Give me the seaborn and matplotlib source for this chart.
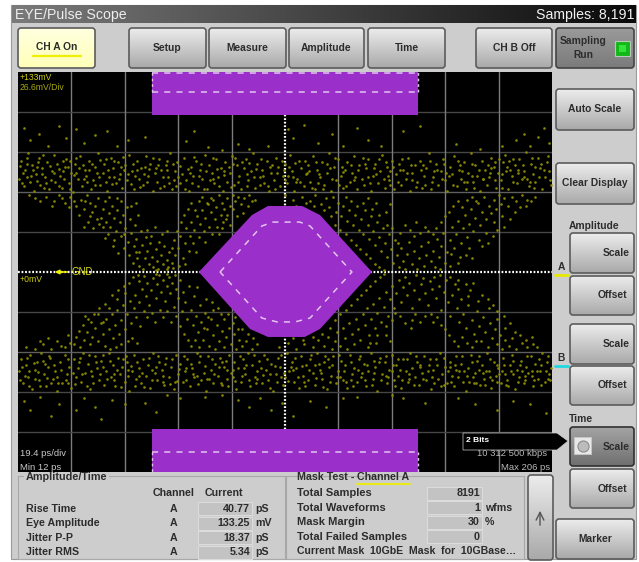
import matplotlib
matplotlib.use("Agg")
import matplotlib.pyplot as plt
import numpy as np
import seaborn as sns
from matplotlib.patches import FancyBboxPatch, Polygon, Rectangle

# ---- measured values -------------------------------------------------------
PS_MIN, PS_MAX, PS_DIV = 12, 206, 19.4
MV_MAX, MV_DIV = 133, 26.6

top_band = [(12.5,62),(13.2,74),(14,57),(14.6,68),(15.8,79),(16.3,60),(17,71),(17.9,54),(18.4,65),(19.6,76),(20.1,58),(20.9,69),(21.8,63),(22.5,73),(23.1,55),(24.2,67),(24.9,78),(25.6,60),(26.3,72),(27.4,64),(27.9,56),(29,70),(29.6,75),(30.4,59),(31.3,66),(32,53),(32.7,72),(33.8,62),(34.5,77),(35.1,57),(36.2,68),(36.8,64),(37.7,74),(38.5,55),(39.4,61),(40.1,70),(41,79),(41.7,58),(42.8,66),(43.3,72),(44.4,54),(45,63),(45.9,76),(46.6,69),(47.5,59),(48.3,73),(49.2,65),(49.8,56),(50.9,71),(51.6,61),(52.4,78),(53.5,67),(54,55),(55.1,74),(55.8,62),(56.7,69),(57.3,58),(58.4,77),(59.2,64),(60,72),(60.9,54),(61.6,66),(62.5,60),(63.2,75),(64.1,68),(65,57),(65.7,71),(66.6,63),(67.4,79),(68,55),(69.1,67),(69.8,73),(70.7,59),(71.5,65),(72.3,76),(73.2,61),(74,54),(74.9,70),(75.6,64),(76.5,74),(77.3,57),(78.1,68),(79,62),(79.8,78),(80.6,55),(81.5,71),(82.3,66),(83.1,59),(84,75),(84.8,63),(85.7,69),(86.4,54),(87.3,73),(88.1,60),(89,66),(89.9,77),(90.6,58),(91.4,71),(92.3,64),(93.1,55),(94,69),(94.8,75),(95.7,61),(96.5,67),(97.3,79),(98.2,56),(99,72),(99.9,63),(100.7,68),(101.5,59),(102.4,74),(103.2,54),(104,66),(104.9,61),(105.7,76),(106.6,70),(107.3,57),(108.2,64),(109,72),(109.9,59),(110.7,78),(111.5,67),(112.4,54),(113.2,62),(114.1,74),(114.9,69),(115.8,57),(116.5,65),(117.4,71),(118.2,60),(119.1,77),(119.9,55),(120.8,68),(121.6,63),(122.4,73),(123.3,58),(124.1,66),(125,79),(125.8,54),(126.7,70),(127.5,61),(128.3,75),(129.2,64),(130,56),(130.9,68),(131.7,73),(132.6,60),(133.4,66),(134.2,77),(135.1,55),(135.9,71),(136.8,62),(137.6,58),(138.5,69),(139.3,75),(140.1,54),(141,64),(141.8,72),(142.7,59),(143.5,67),(144.4,78),(145.2,56),(146,70),(146.9,61),(147.7,74),(148.6,55),(149.4,65),(150.3,72),(151.1,58),(152,68),(152.8,62),(153.6,76),(154.5,54),(155.3,66),(156.2,71),(157,60),(157.9,74),(158.7,56),(159.6,64),(160.4,69),(161.2,79),(162.1,55),(162.9,63),(163.8,72),(164.6,58),(165.5,67),(166.3,75),(167.1,61),(168,54),(168.8,70),(169.7,65),(170.5,77),(171.4,57),(172.2,68),(173,62),(173.9,73),(174.7,55),(175.6,66),(176.4,79),(177.3,60),(178.1,71),(178.9,64),(179.8,54),(180.6,74),(181.5,68),(182.3,58),(183.2,63),(184,76),(184.8,70),(185.7,56),(186.5,66),(187.4,61),(188.2,73),(189.1,78),(189.9,55),(190.7,68),(191.6,64),(192.4,71),(193.3,59),(194.1,75),(195,62),(195.8,67),(196.6,80),(197.5,57),(198.3,72),(199.2,65),(200,60),(200.9,76),(201.7,69),(202.5,55),(203.4,63),(204.2,73),(205,67),(205.7,58)]

top_band_extra = [(13.8,66),(16.9,64),(19,70),(22,59),(25,66),(28.5,67),(31,74),(34,69),(37.2,60),(40.6,66),(44,75),(47,63),(50.4,68),(54.6,64),(58,70),(62,69),(66,74),(70,63),(74.4,66),(78.6,72),(83,62),(87,67),(91,76),(95.2,65),(100,58),(104.4,71),(108.6,68),(113,60),(117,66),(121,59),(125.4,69),(129.7,70),(134,61),(138,72),(142.2,65),(146.4,64),(150.6,68),(155,61),(159,71),(163.3,67),(167.6,66),(172.6,71),(177,64),(181,62),(185.2,73),(189.5,70),(193.8,66),(198,60),(202,72),(199.7,70),(196,63),(192,75),(188,65),(183.7,69),(174.2,60),(147,67),(110,64),(68.5,61),(33,66),(15.2,72)]

top_band_fill = [(12.9,70.5),(13.5,59.5),(15.1,63.5),(15.4,76),(17.4,67.5),(18.9,60.5),(19.3,73),(20.6,65.5),(21.2,77.5),(21.5,56),(23.7,70.5),(24,61.5),(26.8,57.5),(26.9,68.5),(28.2,74),(28.8,62),(30.2,69.5),(30.8,55),(32.3,64.5),(33.2,75.5),(35.7,71),(35.9,62),(37.9,67.5),(38.9,71.5),(39.8,58),(41.3,63.5),(41.9,74.5),(43.8,60),(44.7,68),(46.2,58.5),(46.9,73.5),(48.7,62),(49.4,70),(50.2,76.5),(52,65),(52.9,58.5),(53.9,72),(55.4,67.5),(56.2,56.5),(57.9,65.5),(58.8,60),(59.7,68.5),(61.2,75.5),(62.9,71),(63.7,56),(64.6,63.5),(66.2,67.5),(67,59),(68.2,72),(69.5,57),(71,70.5),(72.8,55.5),(73.7,68.5),(75.2,59),(76,76.5),(77.8,64),(79.4,55),(80.2,67),(81.9,61.5),(82.7,76),(84.4,68.5),(85.2,57.5),(86.9,64.5),(88.5,70),(89.4,56.5),(90.2,71.5),(92,60),(93.5,73),(95.3,57),(96.1,72.5),(97.7,63),(98.6,68.5),(100.3,75),(101.1,64),(102.8,57.5),(103.6,69.5),(105.3,55),(106.1,66),(107.8,74),(108.9,61),(110.3,70),(111.9,63.5),(112.8,72.5),(114.5,60),(116.1,74),(117.8,67),(118.7,56),(120.4,73),(121.2,65),(122.9,55),(124.4,71.5),(126.2,62),(127.1,76),(128.7,58),(129.9,66.5),(131.3,57),(133,71),(134.6,63),(135.5,68),(137.2,75.5),(139,63),(139.9,59),(141.4,69),(143.1,75),(144.9,62),(145.7,73),(147.3,58),(148.2,70),(150,60),(151.5,75),(153.2,66),(154.9,71),(156.6,56.5),(158.3,68),(160,58),(161.7,74),(162.5,60),(164.2,68),(165.9,62),(166.9,72),(168.4,64),(170.1,58),(171.8,74),(173.4,67),(175.2,60),(176.9,72),(177.7,56),(179.4,68),(181.1,62),(182.7,71),(183.6,66),(185.3,61),(186.9,75),(187.8,56),(189.4,67),(190.3,74),(192,60),(193.6,68),(195.4,71),(197,62),(198.7,76),(199.5,56),(201.2,63),(203,68),(204.5,77),(205.3,61)]

bottom_band = [(12.4,-66),(13.1,-58),(13.9,-74),(14.8,-62),(15.5,-70),(16.4,-55),(17.2,-78),(18,-65),(18.8,-60),(19.7,-72),(20.5,-54),(21.4,-68),(22.1,-76),(23,-63),(23.8,-57),(24.7,-71),(25.5,-66),(26.3,-79),(27.2,-60),(28,-74),(28.9,-55),(29.7,-68),(30.5,-63),(31.4,-77),(32.2,-58),(33.1,-70),(33.9,-64),(34.8,-73),(35.6,-54),(36.4,-67),(37.3,-61),(38.1,-78),(39,-69),(39.8,-56),(40.7,-64),(41.5,-72),(42.3,-59),(43.2,-75),(44,-66),(44.9,-54),(45.7,-70),(46.6,-62),(47.4,-76),(48.2,-57),(49.1,-68),(49.9,-63),(50.8,-73),(51.6,-60),(52.5,-79),(53.3,-66),(54.1,-55),(55,-71),(55.8,-64),(56.7,-74),(57.5,-58),(58.4,-69),(59.2,-62),(60,-77),(60.9,-54),(61.7,-67),(62.6,-72),(63.4,-60),(64.3,-65),(65.1,-75),(65.9,-57),(66.8,-70),(67.6,-63),(68.5,-78),(69.3,-55),(70.2,-68),(71,-61),(71.8,-73),(72.7,-66),(73.5,-58),(74.4,-76),(75.2,-64),(76.1,-70),(76.9,-54),(77.7,-60),(78.6,-72),(79.4,-67),(80.3,-79),(81.1,-56),(82,-65),(82.8,-74),(83.6,-61),(84.5,-69),(85.3,-57),(86.2,-75),(87,-63),(87.9,-71),(88.7,-55),(89.5,-67),(90.4,-60),(91.2,-78),(92.1,-64),(92.9,-73),(93.8,-58),(94.6,-68),(95.4,-54),(96.3,-76),(97.1,-62),(98,-70),(98.8,-66),(99.7,-59),(100.5,-74),(101.3,-55),(102.2,-65),(103,-72),(103.9,-61),(104.7,-79),(105.6,-68),(106.4,-57),(107.2,-63),(108.1,-75),(108.9,-70),(109.8,-54),(110.6,-66),(111.5,-60),(112.3,-73),(113.1,-64),(114,-77),(114.8,-56),(115.7,-69),(116.5,-62),(117.4,-72),(118.2,-58),(119,-67),(119.9,-75),(120.7,-54),(121.6,-65),(122.4,-71),(123.3,-60),(124.1,-78),(124.9,-63),(125.8,-69),(126.6,-56),(127.5,-74),(128.3,-66),(129.2,-59),(130,-72),(130.8,-62),(131.7,-77),(132.5,-55),(133.4,-68),(134.2,-64),(135.1,-73),(135.9,-58),(136.7,-70),(137.6,-61),(138.4,-76),(139.3,-66),(140.1,-54),(141,-71),(141.8,-63),(142.6,-79),(143.5,-57),(144.3,-68),(145.2,-60),(146,-74),(146.9,-65),(147.7,-55),(148.5,-72),(149.4,-62),(150.2,-69),(151.1,-77),(151.9,-58),(152.8,-66),(153.6,-73),(154.4,-54),(155.3,-64),(156.1,-70),(157,-60),(157.8,-75),(158.7,-67),(159.5,-56),(160.3,-72),(161.2,-62),(162,-78),(162.9,-65),(163.7,-58),(164.6,-71),(165.4,-54),(166.2,-68),(167.1,-63),(167.9,-74),(168.8,-60),(169.6,-69),(170.5,-76),(171.3,-56),(172.1,-66),(173,-61),(173.8,-73),(174.7,-79),(175.5,-64),(176.4,-55),(177.2,-70),(178,-67),(178.9,-59),(179.7,-75),(180.6,-62),(181.4,-71),(182.3,-54),(183.1,-66),(183.9,-77),(184.8,-60),(185.6,-69),(186.5,-64),(187.3,-74),(188.2,-57),(189,-68),(189.8,-72),(190.7,-62),(191.5,-55),(192.4,-78),(193.2,-65),(194.1,-70),(194.9,-59),(195.7,-74),(196.6,-63),(197.4,-67),(198.3,-56),(199.1,-76),(200,-61),(200.8,-71),(201.6,-66),(202.5,-54),(203.3,-73),(204.2,-60),(205,-68),(205.8,-64)]

bottom_band_extra = [(14.4,-69),(18.2,-71),(21.7,-61),(26,-70),(30,-74),(34,-60),(38.5,-66),(43,-63),(47,-68),(51.2,-56),(56,-69),(60.5,-65),(64.8,-69),(69,-73),(73,-64),(77,-69),(81.5,-71),(86,-60),(90,-70),(94.2,-64),(99,-71),(103.4,-68),(107.7,-70),(112,-65),(116,-73),(120,-62),(124.5,-58),(128.8,-70),(133,-72),(137,-67),(141.4,-59),(145.6,-69),(150,-58),(154,-71),(158.2,-63),(162.4,-70),(166.6,-75),(171,-65),(175,-69),(179.3,-65),(183.5,-70),(187.8,-66),(192,-68),(196.2,-72),(200.4,-66),(204.6,-71),(202,-62),(198.6,-69),(190,-76),(186,-73),(182,-66),(177.6,-74),(169,-63),(148,-66),(122,-67),(88,-65),(52,-65),(24,-74),(16,-66),(195,-66)]

bottom_band_fill = [(12.8,-71.5),(13.6,-63.5),(15.1,-57),(15.9,-75.5),(17.7,-60.5),(19.2,-66.5),(20.1,-76),(21.1,-59),(22.6,-70.5),(23.4,-56),(25,-62),(26.7,-73.5),(27.6,-65.5),(29.3,-72),(30.1,-58),(31.8,-67),(32.6,-74.5),(34.4,-57.5),(35.2,-68),(36.9,-75.5),(37.7,-55.5),(39.3,-73.5),(40.2,-60),(41.9,-67.5),(42.7,-55),(44.4,-71),(45.3,-59.5),(47,-72),(47.8,-65),(49.5,-76.5),(50.3,-58),(52,-69),(52.9,-62.5),(54.6,-75.5),(55.4,-60),(57.1,-67),(57.9,-76.5),(59.6,-57),(60.5,-71.5),(62.2,-63.5),(63,-56),(64.7,-73),(65.5,-61),(67.2,-74.5),(68.1,-58),(69.8,-72.5),(70.6,-64.5),(72.3,-56),(73.1,-71.5),(74.9,-61),(75.7,-68),(77.4,-74.5),(78.2,-56),(80,-62.5),(80.8,-71),(82.4,-58),(83.3,-67.5),(85,-63),(85.8,-73.5),(87.5,-59),(88.4,-76),(90,-65),(90.8,-72.5),(92.5,-56),(93.4,-69),(95,-62),(95.9,-71.5),(97.6,-55.5),(98.4,-74),(100.1,-64),(101,-68.5),(102.6,-58),(103.5,-77),(105.2,-62.5),(106,-73),(107.7,-55),(108.5,-67),(110.2,-72.5),(111,-63),(112.7,-57.5),(113.6,-70),(115.3,-62.5),(116.1,-76),(117.8,-65),(118.6,-55),(120.3,-70.5),(121.2,-61),(122.8,-76.5),(123.7,-56),(125.4,-73),(126.2,-62),(127.9,-70),(128.7,-55),(130.4,-66),(131.3,-73),(133,-60),(133.8,-75.5),(135.5,-65),(136.3,-56),(138,-71.5),(138.9,-62),(140.6,-75),(141.4,-67),(143.1,-60),(143.9,-72),(145.6,-56),(146.5,-70),(148.1,-62),(149,-76),(150.7,-65),(151.5,-72),(153.2,-58),(154,-68),(155.7,-75),(156.6,-56),(158.2,-62),(159.1,-71),(160.8,-66),(161.6,-58),(163.3,-74),(164.1,-62),(165.8,-76),(166.7,-57),(168.3,-66),(169.2,-73),(170.9,-62),(171.7,-70),(173.4,-56),(174.2,-66),(175.9,-73),(176.8,-60),(178.4,-74),(179.3,-56),(181,-67),(181.8,-75),(183.5,-58),(184.3,-72),(186,-62),(186.9,-68),(188.6,-62),(189.4,-75),(191.1,-66),(191.9,-59),(193.6,-73),(194.5,-62),(196.1,-69),(197,-56),(198.7,-66),(199.5,-72),(201.2,-58),(202,-75),(203.7,-66),(204.6,-56),(205.4,-72)]

strays_outer = [(14,96),(16.5,88),(19.5,92),(23,84),(27,97),(29.5,89),(33,95),(36,86),(40,91),(44.5,94),(48,84),(52,88),(58,90),(73,87),(76,94),(81,83),(86,81),(92,85),(96,82),(103,84),(110,95),(112,89),(116,98),(121,86),(126,92),(130,84),(135,96),(139,88),(144,84),(152,94),(158,97),(171,85),(180,82),(188,84),(193,88),(196,92),(198,84),(201,90),(203,96),(205,86),(14,-86),(16.5,-92),(20,-83),(24,-96),(27,-88),(33,-92),(36,-84),(40,-90),(42,-98),(46,-85),(51,-88),(58,-87),(62,-93),(66,-82),(71,-84),(80,-83),(86,-82),(92,-85),(96,-90),(100,-84),(104,-92),(108,-87),(112,-96),(118,-86),(124,-90),(130,-84),(135,-83),(148,-82),(152,-84),(160,-87),(172,-84),(178,-88),(186,-92),(192,-86),(198,-88),(204,-94)]

cross_left_top = [(16,51),(18,49),(22,50),(25,47),(27,51),(29,46),(31,50),(33,44),(35,48),(36,42),(37,51),(38,46),(39,40),(40,44),(41,49),(42,36),(42.8,42),(43.5,47),(44,33),(45,39),(45.6,30),(46,44),(47,36),(47.6,27),(48,41),(49,33),(49.5,24),(50,38),(51,29),(51.5,43),(52,20),(52.6,35),(53,26),(54,17),(54.5,31),(55,22),(55.5,38),(56,13),(56.6,27),(57,18),(58,9),(58.4,23),(59,14),(59.5,5),(60,19),(60.5,10),(61,3),(62,15),(62.5,7),(63,2),(64,11),(64.6,5),(65,17),(66,8),(66.5,3),(67,13),(68,6),(68.5,21),(69,11),(70,16),(70.5,4),(71,24),(72,9),(72.6,19),(73,29),(74,14),(74.5,24),(75,33),(75.7,19),(76,28),(77,37),(77.6,23),(78,32),(79,41),(79.5,27),(80,36),(81,45),(81.5,30),(82,40),(83,48),(83.5,35),(84,43),(85,51),(85.6,38),(86,46),(87,42),(88,49),(89,44),(90,51),(91,47),(92,50),(93,45),(94,49),(96,51),(98,48),(55.2,9),(50.4,16),(47,21),(44.6,25),(76.8,13),(80,20),(82.6,25),(72.8,5),(43,30),(86.6,33),(88,38),(40.6,35),(38,37),(36.5,47),(90,42)]

cross_left_top_fill = [(20,47),(24.5,44),(28,49),(30.5,43),(32.5,47.5),(34,38),(37.6,33),(39.4,29),(41.4,32),(43.7,22.5),(46.4,17),(48.4,12.5),(50.6,25),(52.3,11),(53.6,6),(54.8,13),(56,4),(57.4,2),(58.8,28),(60.3,24),(61.6,30),(63.4,20),(64.4,25),(66.2,27),(67.8,16),(69.6,27),(71.2,33),(72.4,38),(73.8,42),(74.9,46),(76.4,41),(77.9,47),(79,50),(80.6,46),(82,49),(84.4,30),(85.2,25),(86.1,29),(87.6,35),(89.2,31),(91.6,37),(93.6,39),(95.4,44),(97,47),(53.2,44),(49.6,47),(45.2,50),(47.8,49),(55,46),(36,30),(66,2),(68.4,2.5),(62,1)]

cross_left_bot = [(15,-50),(18,-51),(21,-48),(24,-51),(26,-46),(29,-50),(31,-47),(33,-43),(34.5,-50),(36,-45),(37,-40),(38,-48),(39,-43),(40,-37),(41,-46),(42,-34),(42.7,-41),(43.6,-49),(44,-31),(45,-38),(46,-28),(46.5,-44),(47.3,-35),(48,-25),(48.6,-41),(49.4,-32),(50,-22),(50.7,-38),(51.5,-28),(52,-46),(52.7,-19),(53,-34),(54,-24),(54.6,-15),(55,-30),(56,-20),(56.5,-36),(57,-11),(57.7,-26),(58.4,-16),(59,-7),(59.7,-22),(60.3,-12),(61,-4),(62,-17),(62.6,-8),(63.2,-2),(64,-13),(64.7,-5),(65.4,-19),(66,-9),(66.8,-3),(67.4,-14),(68,-7),(68.6,-23),(69.3,-11),(70,-17),(70.7,-5),(71.4,-26),(72,-13),(72.7,-20),(73.4,-31),(74,-9),(74.7,-25),(75.4,-35),(76,-16),(76.6,-29),(77.3,-40),(78,-22),(78.6,-33),(79.3,-45),(80,-27),(80.7,-38),(81.4,-49),(82,-31),(82.8,-42),(83.6,-51),(84.3,-35),(85,-46),(86,-39),(86.8,-50),(87.7,-43),(88.6,-37),(89.5,-48),(90.4,-41),(91.3,-51),(92.4,-45),(93.5,-49),(95,-46),(97,-51),(99,-48),(56,-6),(51,-14),(47.8,-18),(45,-24),(77,-10),(80.4,-18),(83,-25),(43,-33),(41,-28),(87,-31),(90,-34),(38.6,-33),(92,-38)]

cross_left_bot_fill = [(20,-46),(23,-44),(27.5,-49),(30,-42),(32.4,-48),(34,-39),(35.6,-35),(37.6,-31),(39.5,-28),(41.6,-24),(43.5,-21),(46.3,-15),(48.4,-12),(50.5,-9),(52.4,-7),(53.6,-3),(55.5,-2),(57.6,-2.5),(58.8,-30),(60.5,-27),(61.7,-33),(63.5,-25),(64.6,-30),(66.3,-26),(67.7,-33),(69.5,-29),(71,-36),(72.4,-41),(73.8,-45),(75,-49),(76.3,-45),(77.9,-50),(79.4,-37),(80.9,-30),(82.3,-20),(84.5,-24),(85.7,-28),(88.2,-28),(90.8,-30),(93.3,-38),(95.4,-41),(97.3,-44),(53.4,-44),(49.5,-48),(45.4,-51),(47.6,-50),(55.3,-47),(36.2,-29),(66.3,-1.5),(69,-2),(62,-1)]

cross_right_top = [(109,51),(112,48),(115,50),(118,47),(120,51),(122,45),(124,49),(125,43),(126.5,50),(127.5,40),(128.4,46),(129.3,37),(130,44),(131,50),(131.6,34),(132.4,41),(133,47),(133.7,31),(134.5,38),(135.2,44),(136,28),(136.7,35),(137.5,25),(138,41),(139,31),(139.6,22),(140.4,37),(141,27),(141.8,18),(142.5,33),(143.2,23),(144,14),(144.6,29),(145.4,19),(146,10),(146.8,25),(147.5,15),(148.2,6),(149,21),(149.7,11),(150.4,3),(151.2,16),(152,7),(152.7,2),(153.5,12),(154.2,20),(155,5),(156,14),(156.8,2),(157.6,9),(158.5,17),(159.4,4),(160.2,11),(161,20),(162,7),(162.7,14),(163.5,3),(164.3,22),(165,10),(165.8,17),(166.5,26),(167.3,6),(168,13),(168.8,21),(169.6,30),(170.4,16),(171.2,25),(172,34),(172.8,19),(173.5,29),(174.3,38),(175,23),(175.8,32),(176.6,42),(177.4,27),(178.2,36),(179,46),(179.8,31),(180.5,40),(181.4,50),(182.2,35),(183,44),(184,39),(184.8,48),(185.7,42),(186.6,51),(187.6,45),(188.6,49),(190,44),(191.4,50),(193,47),(195,51),(197,48),(150,19),(146.2,31),(143,38),(140.6,42),(137.4,46),(169.4,12),(172.6,10),(176,16),(179.4,21),(182,26),(185,33),(188,37),(161,27),(156,24)]

cross_right_top_fill = [(113,44),(116.6,46),(119.5,44),(123,41),(125.6,37),(127,31),(129,28),(131,25),(132.8,21),(134.8,18),(136.4,15),(138.4,12),(140,9),(141.6,5),(143.3,3),(145,1.5),(148,29),(150.8,26),(152.6,31),(154.4,28),(156.5,33),(158,26),(160,30),(162.6,25),(164,29),(165.6,33),(167,37),(168.6,40),(170.2,44),(171.7,47),(173.4,43),(175,48),(176.8,50),(178.5,47),(174.6,11),(177,9),(180.4,17),(182.6,19),(184.5,24),(186.2,28),(188.6,30),(190.6,35),(192.4,40),(194.4,43),(196.4,44),(198.5,47),(200,50),(145.6,40),(142,46),(139.2,49),(147,45),(165.2,2),(169,4),(172,6)]

cross_right_bot = [(107,-50),(110,-47),(113,-51),(116,-48),(119,-50),(121,-45),(123,-49),(124.5,-43),(126,-51),(127.2,-46),(128,-40),(129,-49),(130,-37),(130.8,-44),(131.6,-51),(132.4,-34),(133.2,-41),(134,-48),(134.8,-31),(135.6,-38),(136.4,-45),(137.2,-28),(138,-35),(138.7,-24),(139.5,-42),(140.3,-31),(141,-21),(141.8,-37),(142.5,-27),(143.3,-17),(144,-33),(144.8,-23),(145.6,-13),(146.4,-29),(147.1,-18),(148,-9),(148.7,-24),(149.5,-14),(150.3,-5),(151,-20),(151.8,-10),(152.6,-3),(153.4,-15),(154.2,-7),(155,-24),(155.8,-12),(156.6,-2),(157.5,-18),(158.3,-8),(159.2,-4),(160,-14),(160.8,-22),(161.6,-6),(162.5,-11),(163.3,-3),(164,-17),(165,-9),(165.8,-25),(166.6,-13),(167.4,-5),(168.2,-20),(169,-29),(169.8,-15),(170.6,-8),(171.4,-24),(172.2,-33),(173,-18),(173.8,-28),(174.6,-37),(175.4,-22),(176.2,-12),(177,-32),(177.8,-41),(178.6,-26),(179.4,-36),(180.2,-46),(181,-30),(181.8,-40),(182.6,-50),(183.5,-34),(184.3,-44),(185.2,-38),(186,-48),(187,-42),(188,-51),(189,-45),(190.2,-49),(191.5,-44),(193,-51),(195,-47),(197,-50),(199,-48),(149,-27),(145.8,-36),(142.5,-42),(139.7,-47),(172,-11),(175.5,-16),(179,-19),(183,-24),(186,-31),(189,-37),(162,-28),(155,-32)]

cross_right_bot_fill = [(112,-44),(115.6,-45),(119,-43),(122.6,-41),(125.4,-37),(127,-32),(129,-28),(131,-25),(133,-22),(135,-18),(136.6,-15),(138.4,-12),(140,-9),(141.6,-6),(143.4,-3),(145,-1.5),(147.8,-32),(150.6,-29),(152.6,-34),(154.6,-37),(156.4,-28),(158,-33),(160,-29),(162.8,-33),(164.2,-30),(165.6,-35),(167.2,-38),(168.7,-42),(170.4,-46),(171.9,-49),(173.4,-43),(175,-47),(176.8,-50),(178.5,-46),(174.6,-8),(177.2,-7),(180.6,-15),(182.6,-18),(184.6,-22),(186.2,-26),(188.6,-29),(190.6,-34),(192.4,-40),(194.4,-42),(196.4,-45),(198.6,-43),(200.6,-50),(145.6,-42),(142.2,-47),(139,-50),(147.2,-46),(165.4,-2),(169,-3),(172,-5)]

mask_center_outer = [(77.7,0),(97.0,37.9),(102.8,43.9),(115.2,43.9),(121.7,37.9),(140.6,0),(121.7,-37.9),(116.2,-43.2),(102.8,-43.2),(96.3,-37.9)]
mask_center_inner = [(85.4,0),(100.6,30.6),(104.6,33.2),(114.4,33.2),(118.1,30.6),(133.3,0),(118.1,-30.6),(112.6,-33.2),(106.1,-33.2),(100.6,-30.6)]
mask_ps = (60.7, 157.3)
mask_top_mv = (104.4, 133)
mask_bot_mv = (-133, -104.4)
mask_margin_mv = 119.7

amp_rows = ["Rise Time", "Eye Amplitude", "Jitter P-P", "Jitter RMS"]
amp_values = ["40.77", "133.25", "18.37", "5.34"]
amp_units = ["pS", "mV", "pS", "pS"]
mask_rows = ["Total Samples", "Total Waveforms", "Mask Margin", "Total Failed Samples"]
mask_values = ["8191", "1", "30", "0"]
mask_units = ["", "wfms", "%", ""]

# ---- figure ----------------------------------------------------------------
sns.set_theme(style="dark")
plt.rcParams["font.family"] = ["Liberation Sans", "DejaVu Sans"]
W, H = 639, 562
fig = plt.figure(figsize=(W / 100, H / 100), dpi=100, facecolor="white")

def pix_axes(z):
    a = fig.add_axes([0, 0, 1, 1], zorder=z)
    a.set_xlim(0, W); a.set_ylim(H, 0); a.axis("off")
    a.patch.set_alpha(0)
    return a

bg = pix_axes(0)
over = pix_axes(3)
DARK = "#2c2c2c"

def gradient(a, x0, y0, x1, y1, c0, c1, clip=None, horizontal=False):
    c0 = np.array(matplotlib.colors.to_rgb(c0)); c1 = np.array(matplotlib.colors.to_rgb(c1))
    t = np.linspace(0, 1, 64)
    g = (1 - t)[:, None] * c0 + t[:, None] * c1
    g = g[None, :, :] if horizontal else g[:, None, :]
    im = a.imshow(g, extent=(x0, x1, y1, y0), aspect="auto", zorder=2, interpolation="bilinear")
    if clip is not None:
        im.set_clip_path(clip)
    a.set_xlim(0, W); a.set_ylim(H, 0)

def button(x0, y0, x1, y1, label=None, lx=None, ly=None, top="#ececec", bot="#a9a9a9", edge="#5c5c5c", fs=7.4, lw=1.2, ha="center"):
    p = FancyBboxPatch((x0 + 2, y0 + 2), x1 - x0 - 4, y1 - y0 - 4, boxstyle="round,pad=2,rounding_size=3",
                       fc="none", ec=edge, lw=lw, zorder=3)
    bg.add_patch(p)
    gradient(bg, x0, y0, x1, y1, top, bot, clip=p)
    if label:
        bg.text((x0 + x1) / 2 if lx is None else lx, (y0 + y1) / 2 if ly is None else ly, label, ha=ha, va="center",
                fontsize=fs, fontweight="bold", color=DARK, zorder=5)

# window
bg.add_patch(Rectangle((11, 5), 625, 554, fc="#cdcdcd", ec="#9a9a9a", lw=0.8, zorder=1))
gradient(bg, 12, 5, 636, 23, "#7a7a7a", "#0a0a0a", horizontal=True)
bg.text(15, 15, "EYE/Pulse Scope", color="#eeeeee", fontsize=10.2, va="center", zorder=5)
bg.text(634, 15, "Samples: 8,191", color="#f2f2f2", fontsize=10.2, va="center", ha="right", zorder=5)

# top buttons
button(18, 28, 95, 68, "CH A On", top="#ffffe0", bot="#ffffb8", ly=47)
bg.plot([33, 81], [56, 56], color="#f2ee00", lw=1.6, zorder=6)
for x0, x1, lab in [(129, 206, "Setup"), (209, 286, "Measure"), (289, 364, "Amplitude"), (368, 445, "Time"), (476, 552, "CH B Off")]:
    button(x0, 28, x1, 68, lab)
button(556, 28, 634, 68, None, top="#9a9a9a", bot="#7b7b7b", edge="#444444")
bg.text(583, 41, "Sampling", ha="center", va="center", fontsize=7.4, fontweight="bold", color=DARK, zorder=5)
bg.text(583, 55, "Run", ha="center", va="center", fontsize=7.4, fontweight="bold", color=DARK, zorder=5)
bg.add_patch(Rectangle((615, 41), 15, 15, fc="#12b818", ec="#b8c8b8", lw=0.8, zorder=5))
bg.add_patch(Rectangle((619, 45), 7, 7, fc="#34e43a", ec="none", zorder=6))

# right buttons
button(556, 89, 634, 130, "Auto Scale")
button(556, 163, 634, 204, "Clear Display")
bg.text(569, 226, "Amplitude", fontsize=7.4, fontweight="bold", color=DARK, va="center", zorder=5)
button(570, 233, 634, 273, "Scale", lx=630, ha="right")
button(570, 276, 634, 315, "Offset", lx=627, ha="right")
button(570, 324, 634, 364, "Scale", lx=630, ha="right")
button(570, 366, 634, 405, "Offset", lx=627, ha="right")
bg.text(569, 419, "Time", fontsize=7.4, fontweight="bold", color=DARK, va="center", zorder=5)
button(570, 427, 634, 466, "Scale", lx=630, ha="right", top="#a4a4a4", bot="#6f6f6f", edge="#303030")
bg.add_patch(Rectangle((574, 437), 17, 17, fc="#e8e8e8", ec="#c8c8c8", lw=0.6, zorder=5))
bg.plot([582.5], [445.5], "o", ms=8, mfc="#bcbcbc", mec="#8c8c8c", mew=0.8, zorder=6)
button(570, 469, 634, 508, "Offset", lx=627, ha="right")
button(556, 519, 634, 559, "Marker")
button(528, 475, 553, 560, None)
bg.annotate("", xy=(540, 508), xytext=(540, 528), arrowprops=dict(arrowstyle="->", color="#555555", lw=1.0, mutation_scale=14), zorder=6)
bg.text(561, 267, "A", fontsize=7.4, fontweight="bold", color=DARK, ha="center", va="center", zorder=5)
bg.plot([555, 568], [275, 275], color="#e8e800", lw=2, zorder=5)
bg.text(561, 358, "B", fontsize=7.4, fontweight="bold", color=DARK, ha="center", va="center", zorder=5)
bg.plot([555, 568], [366, 366], color="#20d8e0", lw=2, zorder=5)

# bottom panels
TF = 7.7
bg.add_patch(Rectangle((18, 476), 267, 83, fc="none", ec="#a8a8a8", lw=0.8, zorder=3))
bg.add_patch(Rectangle((286, 476), 238, 83, fc="none", ec="#a8a8a8", lw=0.8, zorder=3))
bg.add_patch(Rectangle((24, 471), 85, 10, fc="#cdcdcd", ec="none", zorder=4))
bg.text(26, 477, "Amplitude/Time", fontsize=7.8, fontweight="bold", color=DARK, va="center", zorder=5)
bg.text(153, 493, "Channel", fontsize=TF, fontweight="bold", color=DARK, va="center", zorder=5)
bg.text(205, 493, "Current", fontsize=TF, fontweight="bold", color=DARK, va="center", zorder=5)
bg.text(297, 477, "Mask Test -", fontsize=TF, fontweight="bold", color=DARK, va="center", zorder=5)
bg.text(357, 477, "Channel A", fontsize=TF, fontweight="bold", color=DARK, va="center", zorder=5)
bg.plot([357, 410], [484, 484], color="#eeee00", lw=1.3, zorder=5)
for i in range(4):
    y = 508.5 + i * 14.6
    bg.add_patch(Rectangle((198, y - 6.5), 54, 13, fc="#c3c3c3", ec="#dddddd", lw=0.7, zorder=3))
    bg.text(26, y, amp_rows[i], fontsize=TF, fontweight="bold", color=DARK, va="center", zorder=5)
    bg.text(174, y, "A", fontsize=TF, fontweight="bold", color=DARK, va="center", ha="center", zorder=5)
    bg.text(250, y, amp_values[i], fontsize=TF, fontweight="bold", color=DARK, va="center", ha="right", zorder=5)
    bg.text(255, y, amp_units[i], fontsize=TF, fontweight="bold", color=DARK, va="center", zorder=5)
    y2 = 493.5 + i * 14.4
    bg.add_patch(Rectangle((427, y2 - 6.5), 55, 13, fc="#c3c3c3", ec="#dddddd", lw=0.7, zorder=3))
    bg.text(297, y2, mask_rows[i], fontsize=8, fontweight="bold", color=DARK, va="center", zorder=5)
    bg.text(480, y2, mask_values[i], fontsize=TF, fontweight="bold", color=DARK, va="center", ha="right", zorder=5)
    bg.text(485, y2, mask_units[i], fontsize=TF, fontweight="bold", color=DARK, va="center", zorder=5)
bg.text(297, 551, "Current Mask  10GbE  Mask  for  10GBase…", fontsize=7.6, fontweight="bold", color=DARK, va="center", zorder=5)

# ---- scope -----------------------------------------------------------------
ax = fig.add_axes([18 / W, 1 - 472 / H, 534 / W, 400 / H], zorder=2)
ax.set_facecolor("black")
ax.set_xlim(PS_MIN, PS_MAX); ax.set_ylim(-MV_MAX, MV_MAX)
ax.set_xticks([]); ax.set_yticks([])
for s in ax.spines.values():
    s.set_visible(False)

for k in range(1, 10):
    if k != 5:
        ax.axvline(PS_MIN + k * PS_DIV, color="#7c7c7c", lw=1, zorder=1)
        ax.axhline(MV_MAX - k * MV_DIV, color="#5f5f5f" if k in (3, 7) else "#464646", lw=1, zorder=1)
ax.axvline(PS_MIN + 5 * PS_DIV, color="white", lw=1.6, ls=(0, (0.8, 0.8)), zorder=1.5)
ax.axhline(0, color="white", lw=1.6, ls=(0, (0.8, 0.8)), zorder=1.5)

groups = [top_band, top_band_extra, top_band_fill, bottom_band, bottom_band_extra, bottom_band_fill, strays_outer,
          cross_left_top, cross_left_top_fill, cross_left_bot, cross_left_bot_fill,
          cross_right_top, cross_right_top_fill, cross_right_bot, cross_right_bot_fill]
pts = np.array([p for g in groups for p in g])
sns.scatterplot(x=pts[:, 0], y=pts[:, 1], ax=ax, s=3.6, marker="o", color="#8c8c00", linewidth=0, alpha=0.95, zorder=2, legend=False)

PURPLE = "#9a2fc9"
DASH = "#e2c4ee"
dash = (0, (4, 4))
for mv in (mask_top_mv, mask_bot_mv):
    ax.add_patch(Rectangle((mask_ps[0], mv[0]), mask_ps[1] - mask_ps[0], mv[1] - mv[0], fc=PURPLE, ec="none", zorder=3))
ax.add_patch(Polygon(mask_center_outer, closed=True, fc=PURPLE, ec="none", zorder=3))
ax.add_patch(Polygon(mask_center_inner, closed=True, fc="none", ec=DASH, lw=1.1, ls=dash, zorder=4))
for m in (mask_margin_mv, -mask_margin_mv):
    ax.plot(mask_ps, [m, m], color=DASH, lw=1.1, ls=dash, zorder=4)
ax.plot(mask_ps, [MV_MAX - 0.6, MV_MAX - 0.6], color=DASH, lw=1.1, ls=dash, zorder=4, clip_on=False)
for px in mask_ps:
    ax.plot([px, px], [mask_margin_mv, MV_MAX], color=DASH, lw=1, ls=(0, (2, 2)), zorder=4)
    ax.plot([px, px], [-mask_margin_mv, -MV_MAX], color=DASH, lw=1, ls=(0, (2, 2)), zorder=4)

# texts in the scope
YEL = "#cfcf10"
over.text(20, 78, "+133mV", color=YEL, fontsize=6.2, va="center")
over.text(20, 88, "26.6mV/Div", color="#a8a810", fontsize=6.2, va="center")
over.text(20, 279, "+0mV", color=YEL, fontsize=6.2, va="center")
over.text(71, 272, "GND", color="#dddd20", fontsize=7, va="center")
over.annotate("", xy=(52, 272), xytext=(70, 272), arrowprops=dict(arrowstyle="-|>", color="#f0f000", lw=1.2, mutation_scale=6))
over.text(20, 453, "19.4 ps/div", color="#c8c8c8", fontsize=6.8, va="center")
over.text(20, 467, "Min 12 ps", color="#c8c8c8", fontsize=6.8, va="center")
over.add_patch(Polygon([(463, 433), (557, 433), (568, 441), (557, 450), (463, 450)], closed=True, fc="black", ec="#d0d0d0", lw=0.5))
over.text(466, 441, "2 Bits", color="white", fontsize=6, fontweight="bold", va="center")
over.text(547, 453, "10 312 500 kbps", color="#b8b8b8", fontsize=6.8, va="center", ha="right")
over.text(550, 467, "Max 206 ps", color="#b8b8b8", fontsize=6.8, va="center", ha="right")

fig.savefig("out.png", dpi=100, facecolor="white")
